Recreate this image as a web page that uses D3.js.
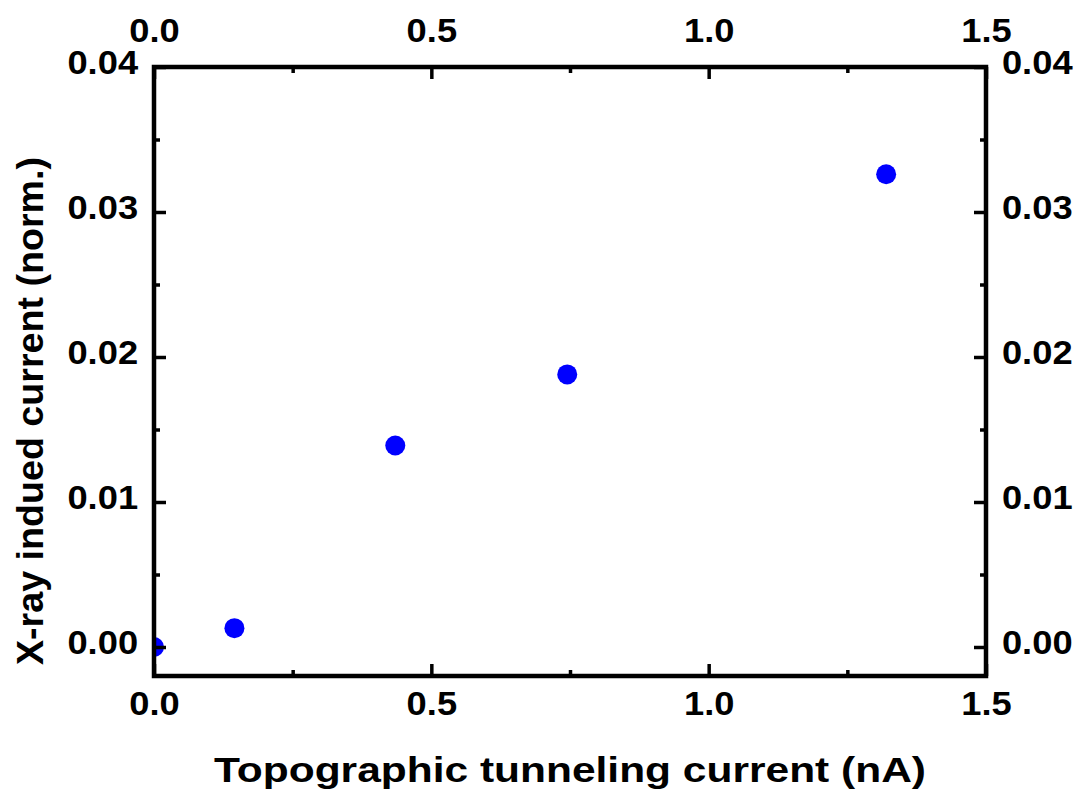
<!DOCTYPE html>
<html>
<head>
<meta charset="utf-8">
<script src="https://cdn.jsdelivr.net/npm/d3@7"></script>
<style>
    body { margin: 0; background: #fff; }
    text { font-family: "Liberation Sans", Arial, sans-serif; font-weight: bold; }
</style>
</head>
<body>
<svg id="chart" width="1079" height="795"></svg>
<script>
// data
var currentNA = [0.0, 0.145, 0.435, 0.745, 1.32];
var xrayNorm = [0.0, 0.0013, 0.0139, 0.0188, 0.0326];
var xTicks = [0.0, 0.5, 1.0, 1.5];
var yTicks = [0.00, 0.01, 0.02, 0.03, 0.04];
var xMinor = [0.25, 0.75, 1.25];
var yMinor = [0.005, 0.015, 0.025, 0.035];

var margin = { top: 67, right: 93, bottom: 119, left: 154 };
var svg = d3.select('#chart');
var width = 1079 - margin.left - margin.right;
var height = 795 - margin.top - margin.bottom;

var x = d3.scaleLinear().domain([0, 1.5]).range([0, width]);
var y = d3.scaleLinear().domain([-0.002, 0.04]).range([height, 0]);

var g = svg.append('g')
    .attr('transform', 'translate(' + margin.left + ',' + margin.top + ')');

svg.append('defs').append('clipPath').attr('id', 'plot-clip')
    .append('rect').attr('width', width).attr('height', height);

// points (clipped by the frame like the original)
g.append('g').attr('clip-path', 'url(#plot-clip)')
    .selectAll('circle').data(currentNA).enter().append('circle')
    .attr('cx', function (d) { return x(d); })
    .attr('cy', function (d, i) { return y(xrayNorm[i]); })
    .attr('r', 10)
    .attr('fill', '#0000ff');

function styleAxis(sel) {
    sel.select('.domain').remove();
    sel.selectAll('line').attr('stroke', '#000').attr('stroke-width', 3.5);
    // reference font is a bit wider than Liberation Sans
    sel.selectAll('text').attr('font-size', 33).attr('fill', '#000')
        .attr('transform', 'scale(1.1,1)');
}

function sideLabels(sel) {
    sel.selectAll('text').attr('dy', '0.19em');
}

var fmt1 = d3.format('.1f');
var fmt2 = d3.format('.2f');

// major ticks point inward, labels outside
g.append('g').attr('transform', 'translate(0,' + height + ')')
    .call(d3.axisBottom(x).tickValues(xTicks).tickFormat(fmt1).tickSizeInner(-12).tickPadding(16))
    .call(styleAxis);
g.append('g')
    .call(d3.axisTop(x).tickValues(xTicks).tickFormat(fmt1).tickSizeInner(-12).tickPadding(25))
    .call(styleAxis);
g.append('g')
    .call(d3.axisLeft(y).tickValues(yTicks).tickFormat(fmt2).tickSizeInner(-12).tickPadding(14.5))
    .call(styleAxis).call(sideLabels);
g.append('g').attr('transform', 'translate(' + width + ',0)')
    .call(d3.axisRight(y).tickValues(yTicks).tickFormat(fmt2).tickSizeInner(-12).tickPadding(14.5))
    .call(styleAxis).call(sideLabels);

// minor ticks
g.append('g').attr('transform', 'translate(0,' + height + ')')
    .call(d3.axisBottom(x).tickValues(xMinor).tickFormat('').tickSizeInner(-6)).call(styleAxis);
g.append('g')
    .call(d3.axisTop(x).tickValues(xMinor).tickFormat('').tickSizeInner(-6)).call(styleAxis);
g.append('g')
    .call(d3.axisLeft(y).tickValues(yMinor).tickFormat('').tickSizeInner(-6)).call(styleAxis);
g.append('g').attr('transform', 'translate(' + width + ',0)')
    .call(d3.axisRight(y).tickValues(yMinor).tickFormat('').tickSizeInner(-6)).call(styleAxis);

// frame
g.append('rect')
    .attr('width', width).attr('height', height)
    .attr('fill', 'none').attr('stroke', '#000').attr('stroke-width', 4.5);

// axis titles
svg.append('text')
    .attr('x', margin.left + width / 2).attr('y', 782)
    .attr('text-anchor', 'middle').attr('font-size', 35)
    .attr('textLength', 712).attr('lengthAdjust', 'spacingAndGlyphs')
    .text('Topographic tunneling current (nA)');

svg.append('text')
    .attr('transform', 'translate(43,411) rotate(-90)')
    .attr('text-anchor', 'middle').attr('font-size', 36)
    .attr('textLength', 508).attr('lengthAdjust', 'spacingAndGlyphs')
    .text('X-ray indued current (norm.)');
</script>
</body>
</html>
